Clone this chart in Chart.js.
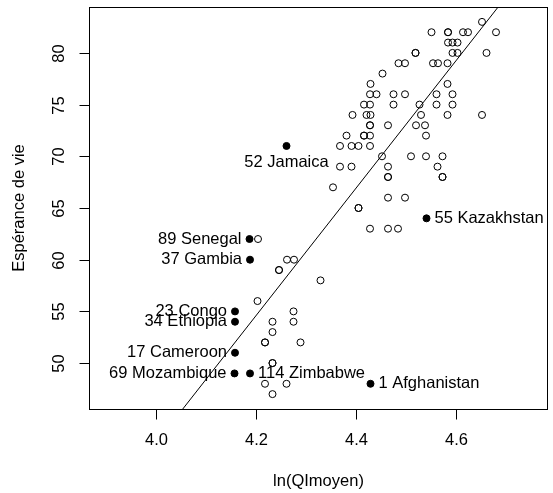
<!DOCTYPE html>
<html>
<head>
<meta charset="utf-8">
<script src="https://cdn.jsdelivr.net/npm/chart.js@4"></script>
<style>
  body { margin: 0; background: #fff; }
  canvas { display: block; }
</style>
</head>
<body>
<canvas id="qiChart" width="553" height="493"></canvas>
<script>
// ln of mean IQ against life expectancy, one circle per country
const lnQI = [
  4.204, 4.262, 4.276, 4.246, 4.246, 4.329, 4.203, 4.275, 4.275, 4.233,
  4.233, 4.218, 4.218, 4.289, 4.233, 4.233, 4.218, 4.261, 4.233,
  4.354, 4.405, 4.405, 4.428, 4.464, 4.484, 4.464, 4.498, 4.464, 4.464,
  4.573, 4.573, 4.368, 4.391, 4.464, 4.563, 4.452, 4.510, 4.540, 4.573,
  4.368, 4.391, 4.405, 4.428, 4.381, 4.416, 4.416, 4.428, 4.540, 4.428,
  4.428, 4.464, 4.520, 4.538,
  4.393, 4.421, 4.429, 4.530, 4.583, 4.652, 4.416, 4.428, 4.475, 4.527,
  4.561, 4.593, 4.428, 4.441, 4.475, 4.498, 4.561, 4.593, 4.429, 4.583,
  4.453, 4.485, 4.498, 4.554, 4.564, 4.583, 4.519, 4.519, 4.593, 4.603,
  4.661, 4.584, 4.593, 4.603, 4.551, 4.584, 4.584, 4.614, 4.624, 4.680,
  4.652
];
const lifeExp = [
  62, 60, 60, 59, 59, 58, 56, 55, 54, 54,
  53, 52, 52, 52, 50, 50, 48, 48, 47,
  67, 65, 65, 63, 63, 63, 66, 66, 68, 68,
  68, 68, 69, 69, 69, 69, 70, 70, 70, 70,
  71, 71, 71, 71, 72, 72, 72, 72, 72, 73,
  73, 73, 73, 73,
  74, 74, 74, 74, 74, 74, 75, 75, 75, 75,
  75, 75, 76, 76, 76, 76, 76, 76, 77, 77,
  78, 79, 79, 79, 79, 79, 80, 80, 80, 80,
  80, 81, 81, 81, 82, 82, 82, 82, 82, 82,
  83
];

// countries picked out by name
const markedIds = [52, 89, 37, 23, 34, 17, 69, 114, 1, 55];
const markedNames = ["Jamaica", "Senegal", "Gambia", "Congo", "Ethiopia",
  "Cameroon", "Mozambique", "Zimbabwe", "Afghanistan", "Kazakhstan"];
const markedQI = [4.261, 4.187, 4.188, 4.158, 4.158, 4.158, 4.157, 4.188, 4.429, 4.541];
const markedLife = [71, 62, 60, 55, 54, 51, 49, 49, 48, 64];

// least squares fit: life = a + b * ln(QI)
const fitA = -204.3;
const fitB = 61.64;

const xTicks = [4.0, 4.2, 4.4, 4.6];
const yTicks = [50, 55, 60, 65, 70, 75, 80];

const xMin = 3.9 - 0.034, xMax = 4.75 + 0.034;
const yMin = 47 - 1.44, yMax = 83 + 1.44;

const FONT = '16.5px "Liberation Sans", Arial, sans-serif';

// which side of the point each name goes on
const nameSide = { 52: "below", 114: "right", 1: "right", 55: "right" };

const rAxes = {
  id: "rAxes",
  afterDraw(chart) {
    const ctx = chart.ctx;
    const area = chart.chartArea;
    const xs = chart.scales.x;
    const ys = chart.scales.y;
    ctx.save();
    ctx.strokeStyle = "#000";
    ctx.fillStyle = "#000";
    ctx.lineWidth = 1;
    ctx.strokeRect(Math.round(area.left) + 0.5, Math.round(area.top) + 0.5,
      Math.round(area.right - area.left) - 1, Math.round(area.bottom - area.top));

    ctx.font = FONT;
    ctx.textAlign = "center";
    ctx.textBaseline = "middle";
    const bottom = Math.round(area.bottom) + 0.5;
    xTicks.forEach(v => {
      const px = Math.round(xs.getPixelForValue(v)) + 0.5;
      ctx.beginPath();
      ctx.moveTo(px, bottom);
      ctx.lineTo(px, bottom + 10);
      ctx.stroke();
      ctx.fillText(v.toFixed(1), px, area.bottom + 31);
    });
    const left = Math.round(area.left) + 0.5;
    yTicks.forEach(v => {
      const py = Math.round(ys.getPixelForValue(v)) + 0.5;
      ctx.beginPath();
      ctx.moveTo(left, py);
      ctx.lineTo(left - 10, py);
      ctx.stroke();
      ctx.save();
      ctx.translate(area.left - 30, py);
      ctx.rotate(-Math.PI / 2);
      ctx.fillText(String(v), 0, 0);
      ctx.restore();
    });

    ctx.fillText("ln(QImoyen)", (area.left + area.right) / 2, area.bottom + 72);
    ctx.save();
    ctx.translate(area.left - 70, (area.top + area.bottom) / 2);
    ctx.rotate(-Math.PI / 2);
    ctx.fillText("Espérance de vie", 0, 0);
    ctx.restore();

    // names next to the filled points
    ctx.beginPath();
    ctx.rect(area.left, area.top, area.right - area.left, area.bottom - area.top);
    ctx.clip();
    markedIds.forEach((id, i) => {
      const px = xs.getPixelForValue(markedQI[i]);
      const py = ys.getPixelForValue(markedLife[i]);
      const text = id + " " + markedNames[i];
      const side = nameSide[id] || "left";
      if (side === "below") {
        ctx.textAlign = "center";
        ctx.fillText(text, px, py + 16);
      } else if (side === "right") {
        ctx.textAlign = "left";
        ctx.fillText(text, px + 8, py);
      } else {
        ctx.textAlign = "right";
        ctx.fillText(text, px - 8, py);
      }
    });
    ctx.restore();
  }
};

new Chart(document.getElementById("qiChart").getContext("2d"), {
  type: "scatter",
  data: {
    datasets: [
      {
        label: "marked",
        data: markedQI.map((x, i) => ({ x: x, y: markedLife[i] })),
        pointRadius: 3.5,
        borderWidth: 1,
        borderColor: "#000",
        backgroundColor: "#000"
      },
      {
        label: "countries",
        data: lnQI.map((x, i) => ({ x: x, y: lifeExp[i] })),
        pointRadius: 3.5,
        borderWidth: 1,
        borderColor: "#000",
        backgroundColor: "rgba(0,0,0,0)"
      },
      {
        type: "line",
        label: "fit",
        data: [xMin, xMax].map(x => ({ x: x, y: fitA + fitB * x })),
        borderColor: "#000",
        borderWidth: 1,
        pointRadius: 0,
        fill: false,
        tension: 0
      }
    ]
  },
  options: {
    responsive: false,
    animation: false,
    devicePixelRatio: 1,
    layout: { padding: { left: 89, right: 2, top: 7, bottom: 84 } },
    scales: {
      x: { type: "linear", display: false, min: xMin, max: xMax },
      y: { type: "linear", display: false, min: yMin, max: yMax }
    },
    plugins: {
      legend: { display: false },
      tooltip: { enabled: false }
    }
  },
  plugins: [rAxes]
});
</script>
</body>
</html>
